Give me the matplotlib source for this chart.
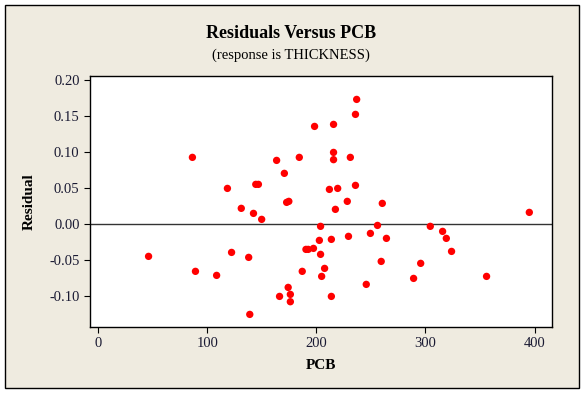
import matplotlib.pyplot as plt
from matplotlib.patches import Rectangle

# residuals vs PCB
pcb = [46.1, 86.3, 89.1, 108.5, 118.4, 122.2, 131.1, 137.9, 138.9, 142.3,
       144.4, 146.8, 149.8, 163.5, 166.2, 170.6, 172.7, 174.7, 174.1, 176.1,
       176.1, 184.3, 187.0, 190.4, 192.5, 197.3, 198.3, 202.7, 203.8, 203.8,
       204.8, 207.5, 211.9, 213.7, 213.7, 215.7, 215.7, 215.7, 217.4, 219.5,
       228.3, 229.4, 231.1, 235.8, 235.8, 236.9, 245.7, 249.5, 256.0, 259.4,
       260.4, 264.2, 289.1, 295.6, 304.4, 315.7, 319.1, 323.9, 356.0, 395.2]
resid = [-0.0449, 0.0926, -0.0657, -0.0713, 0.0495, -0.0394, 0.0218, -0.0463, -0.1255, 0.0148,
         0.0551, 0.0551, 0.0065, 0.0884, -0.1005, 0.0704, 0.0301, 0.0315, -0.0880, -0.0977,
         -0.1079, 0.0926, -0.0657, -0.0352, -0.0352, -0.0338, 0.1356, -0.0227, -0.0032, -0.0421,
         -0.0727, -0.0616, 0.0481, -0.0213, -0.1005, 0.1384, 0.0995, 0.0894, 0.0204, 0.0495,
         0.0315, -0.0171, 0.0926, 0.0537, 0.1523, 0.1731, -0.0838, -0.0130, -0.0019, -0.0519,
         0.0287, -0.0199, -0.0755, -0.0546, -0.0032, -0.0102, -0.0199, -0.0380, -0.0727, 0.0162]

xticks = [0, 100, 200, 300, 400]
yticks = [-0.10, -0.05, 0.00, 0.05, 0.10, 0.15, 0.20]

bg = '#efebe0'
serif = ['Liberation Serif', 'DejaVu Serif']

fig = plt.figure(figsize=(5.84, 3.93), dpi=100)
fig.patch.set_facecolor('white')
fig.patches.append(Rectangle((4.5 / 584, 5.5 / 393), 574.5 / 584, 383 / 393,
                             transform=fig.transFigure, facecolor=bg,
                             edgecolor='black', linewidth=1.0, zorder=-1))

ax = fig.add_axes([90 / 584, 66 / 393, 462 / 584, 251 / 393])
ax.set_facecolor('white')
ax.axhline(0, color='#333333', linewidth=1.0, zorder=1)
ax.scatter(pcb, resid, s=28, color='#ff0000', edgecolors='none', zorder=3)

ax.set_xlim(-7.6, 416)
ax.set_ylim(-0.143, 0.2056)
ax.set_xticks(xticks)
ax.set_xticklabels([str(t) for t in xticks])
ax.set_yticks(yticks)
ax.set_yticklabels(['%.2f' % t for t in yticks])
ax.tick_params(direction='out', length=4, width=0.8, labelsize=10.5, colors='black')
for lab in ax.get_xticklabels() + ax.get_yticklabels():
    lab.set_family(serif)
    lab.set_color('#1a1a33')
for sp in ax.spines.values():
    sp.set_color('black')
    sp.set_linewidth(1.0)

ax.set_xlabel('PCB', family=serif, fontsize=11, fontweight='bold', labelpad=6)
ax.set_ylabel('Residual', family=serif, fontsize=11, fontweight='bold', labelpad=10)

fig.text(291 / 584, 360 / 393, 'Residuals Versus PCB', family=serif, fontsize=13,
         fontweight='bold', ha='center', va='center')
fig.text(291 / 584, 338 / 393, '(response is THICKNESS)', family=serif, fontsize=10.5,
         ha='center', va='center')

fig.savefig('out.png', dpi=100, facecolor=fig.get_facecolor())
